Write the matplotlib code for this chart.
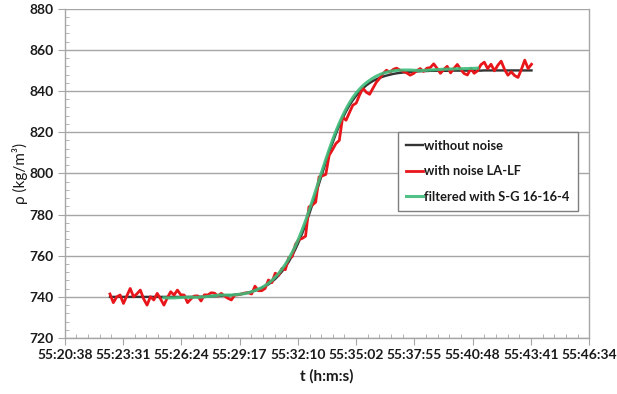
"""Density step response: clean signal, noisy signal and S-G filtered signal."""

import matplotlib

matplotlib.use("Agg")
import matplotlib.pyplot as plt
import numpy as np
from matplotlib.ticker import FixedLocator, MultipleLocator

plt.rcParams["font.family"] = ["Lato", "DejaVu Sans"]

# time axis (seconds after 55:20:38), Excel major unit 0.002 day
MAJOR_STEP = 172.8
tick_labels = ["55:20:38", "55:23:31", "55:26:24", "55:29:17", "55:32:10",
               "55:35:02", "55:37:55", "55:40:48", "55:43:41", "55:46:34"]
t_first = 134.0      # first sample at 55:22:52
t_step = 10.0        # sampling period, s
filt_offset = 16     # S-G 16-16-4 drops 16 samples on each side

rho_clean = [
    740.0, 740.0, 740.0, 740.0, 740.0, 740.0, 740.0, 740.0, 740.0, 740.0,
    740.0, 740.0, 740.0, 740.0, 740.0, 740.0, 740.0, 740.0, 740.0, 740.0,
    740.0, 740.0, 740.0, 740.0, 740.0, 740.1, 740.1, 740.1, 740.1, 740.1,
    740.3, 740.3, 740.4, 740.5, 740.6, 740.7, 740.8, 741.0, 741.2, 741.4,
    741.7, 742.1, 742.5, 743.0, 743.6, 744.3, 745.1, 746.1, 747.3, 748.7,
    750.4, 752.3, 754.5, 757.0, 759.9, 763.2, 766.8, 770.8, 775.2, 779.8,
    784.7, 789.8, 795.0, 800.2, 805.3, 810.2, 814.8, 819.2, 823.2, 826.8,
    830.1, 833.0, 835.5, 837.7, 839.6, 841.3, 842.7, 843.9, 844.9, 845.7,
    846.4, 847.0, 847.5, 847.9, 848.3, 848.6, 848.8, 849.0, 849.2, 849.3,
    849.4, 849.5, 849.6, 849.7, 849.7, 849.8, 849.8, 849.8, 849.8, 849.8,
    849.8, 849.9, 849.9, 849.9, 849.9, 849.9, 849.9, 849.9, 849.9, 849.9,
    849.9, 850.0, 850.0, 850.0, 850.0, 850.0, 850.0, 850.0, 850.0, 850.0,
    850.0, 850.0, 850.0, 850.0, 850.0, 850.0,
]

rho_noisy = [
    741.4, 737.2, 740.0, 740.9, 736.8, 740.5, 744.1, 740.0, 741.5, 743.3,
    739.0, 736.0, 740.1, 738.5, 741.7, 739.0, 736.0, 739.5, 742.5, 740.9,
    743.3, 741.0, 740.9, 737.2, 739.0, 740.4, 740.5, 738.0, 741.0, 740.9,
    742.0, 741.8, 740.4, 741.7, 740.4, 739.3, 738.5, 740.9, 741.0, 741.4,
    741.9, 742.0, 741.4, 745.2, 743.0, 743.0, 744.1, 748.2, 746.9, 751.5,
    750.5, 753.8, 753.2, 759.0, 759.5, 765.5, 767.8, 768.4, 769.5, 783.7,
    784.6, 786.0, 798.3, 798.8, 799.5, 808.8, 811.5, 814.5, 816.0, 827.3,
    825.8, 829.5, 833.1, 834.1, 838.0, 841.4, 839.4, 838.4, 841.4, 844.3,
    846.2, 848.5, 850.1, 849.1, 850.5, 851.1, 850.1, 849.5, 848.8, 847.7,
    848.5, 849.9, 850.9, 849.5, 851.1, 851.4, 853.2, 851.0, 848.6, 850.5,
    852.0, 848.8, 851.0, 852.9, 850.5, 848.5, 847.8, 850.9, 848.6, 849.8,
    852.8, 854.0, 850.9, 853.0, 849.8, 852.5, 854.5, 850.5, 847.7, 849.3,
    847.5, 846.6, 850.5, 855.0, 850.9, 853.0,
]

rho_filtered = [
    739.6, 739.5, 739.5, 739.5, 739.6, 739.7, 739.8, 739.8, 739.8, 739.8,
    739.8, 739.9, 740.0, 740.2, 740.4, 740.6, 740.8, 740.9, 740.9, 740.9,
    740.9, 741.0, 741.2, 741.4, 741.6, 742.0, 742.5, 743.1, 743.8, 744.5,
    745.5, 746.6, 748.0, 749.6, 751.4, 753.5, 755.8, 758.5, 761.5, 764.8,
    768.5, 772.6, 777.0, 781.7, 786.6, 791.6, 796.7, 801.8, 806.8, 811.6,
    816.2, 820.5, 824.4, 828.0, 831.3, 834.2, 836.8, 839.0, 840.9, 842.6,
    844.0, 845.2, 846.3, 847.2, 848.0, 848.6, 849.1, 849.5, 849.8, 850.0,
    850.1, 850.2, 850.2, 850.2, 850.1, 850.0, 850.0, 850.0, 850.1, 850.2,
    850.3, 850.4, 850.5, 850.6, 850.6, 850.7, 850.7, 850.8, 850.8, 850.9,
    850.9, 851.0, 851.0, 851.1,
]

t = t_first + t_step * np.arange(len(rho_noisy))
t_filt = t[filt_offset:filt_offset + len(rho_filtered)]

fig = plt.figure(figsize=(6.17, 3.94), dpi=100)
ax = fig.add_axes([0.105, 0.142, 0.850, 0.836])

ax.plot(t, rho_clean, color="#333333", lw=1.7, label="without noise")
ax.plot(t, rho_noisy, color="#e8161b", lw=2.0, label="with noise LA-LF")
ax.plot(t_filt, rho_filtered, color="#3dbb7a", lw=2.2, alpha=0.9,
        label="filtered with S-G 16-16-4")

ax.set_xlim(0, MAJOR_STEP * (len(tick_labels) - 1))
ax.set_ylim(720, 880)
ax.xaxis.set_major_locator(FixedLocator(MAJOR_STEP * np.arange(len(tick_labels))))
ax.xaxis.set_minor_locator(MultipleLocator(MAJOR_STEP / 5))
ax.set_xticklabels(tick_labels)
ax.yaxis.set_major_locator(MultipleLocator(20))
ax.yaxis.set_minor_locator(MultipleLocator(4))

ax.grid(axis="y", which="major", color="#a6a6a6", lw=1.0)
ax.set_axisbelow(True)
for side in ["left", "bottom", "right", "top"]:
    ax.spines[side].set_color("#a6a6a6")
    ax.spines[side].set_linewidth(1.0)
ax.spines["top"].set_visible(False)

ax.tick_params(which="major", direction="out", length=5, color="#a6a6a6",
               labelsize=10, labelcolor="#1a1a1a", pad=3)
ax.tick_params(which="minor", direction="in", length=3, color="#a6a6a6")
for lab in ax.get_xticklabels() + ax.get_yticklabels():
    lab.set_fontweight("bold")

ax.set_xlabel("t (h:m:s)", fontsize=11, fontweight="bold", color="#1a1a1a",
              labelpad=6)
ax.set_ylabel("ρ (kg/m³)", fontsize=11, color="#1a1a1a", labelpad=1)

leg = ax.legend(loc="upper left", bbox_to_anchor=(398 / 617, 1 - 132 / 394),
                bbox_transform=fig.transFigure, borderaxespad=0,
                fancybox=False, edgecolor="#7f7f7f", framealpha=1,
                handlelength=1.3, handletextpad=0.15, labelspacing=1.05,
                borderpad=0.6, prop={"weight": "bold", "size": 9.3})
leg.get_frame().set_linewidth(1.0)
for txt in leg.get_texts():
    txt.set_color("#1a1a1a")

fig.savefig("out.png", dpi=100)
